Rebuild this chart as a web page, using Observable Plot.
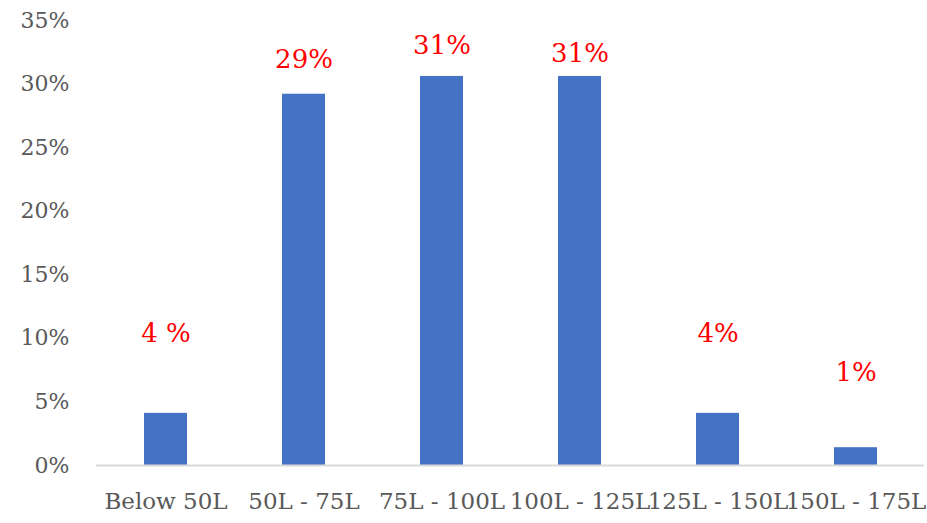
<!DOCTYPE html>
<html>
<head>
<meta charset="utf-8">
<script src="https://cdn.jsdelivr.net/npm/d3@7"></script>
<script src="https://cdn.jsdelivr.net/npm/@observablehq/plot@0.6"></script>
<style>
  html, body { margin: 0; padding: 0; background: #fff; }
  #chart { width: 927px; height: 523px; }
</style>
</head>
<body>
<div id="chart"></div>
<script>
// Share of buyers by budget bracket (in lakh rupees)
const categories = ["Below 50L", "50L - 75L", "75L - 100L", "100L - 125L", "125L - 150L", "150L - 175L"];
const shares = [4.1, 29.2, 30.6, 30.6, 4.1, 1.4];
const valueLabels = ["4 %", "29%", "31%", "31%", "4%", "1%"];
const yTicks = [0, 5, 10, 15, 20, 25, 30, 35];

const rows = categories.map((c, i) => ({ category: c, share: shares[i], label: valueLabels[i] }));

// Heights (in axis units) where each value label sits above its bar
const labelAt = [10.4, 31.9, 33.0, 32.4, 10.4, 7.3];

const chart = Plot.plot({
  width: 927,
  height: 523,
  marginLeft: 96,
  marginRight: 3,
  marginTop: 20,
  marginBottom: 58,
  style: { fontFamily: "DejaVu Serif", fontSize: "22px", color: "#595959", background: "#fff" },
  x: { domain: categories, paddingInner: 0.69, paddingOuter: 0.345, label: null },
  y: { domain: [0, 35], ticks: yTicks, label: null },
  marks: [
    Plot.axisY({ ticks: yTicks, tickFormat: d => d + "%", tickSize: 0, tickPadding: 27, fontSize: 22, fill: "#595959" }),
    Plot.axisX({ tickSize: 0, tickPadding: 27, fontSize: 23, fill: "#595959" }),
    Plot.barY(rows, { x: "category", y: "share", fill: "#4472c4" }),
    Plot.ruleY([0], { stroke: "#d9d9d9", strokeWidth: 2 }),
    Plot.text(rows, {
      x: "category",
      y: (d, i) => labelAt[i],
      text: "label",
      fill: "#ff0000",
      fontSize: 26,
      textAnchor: "middle",
      lineAnchor: "middle"
    })
  ]
});

document.getElementById("chart").appendChild(chart);
</script>
</body>
</html>
